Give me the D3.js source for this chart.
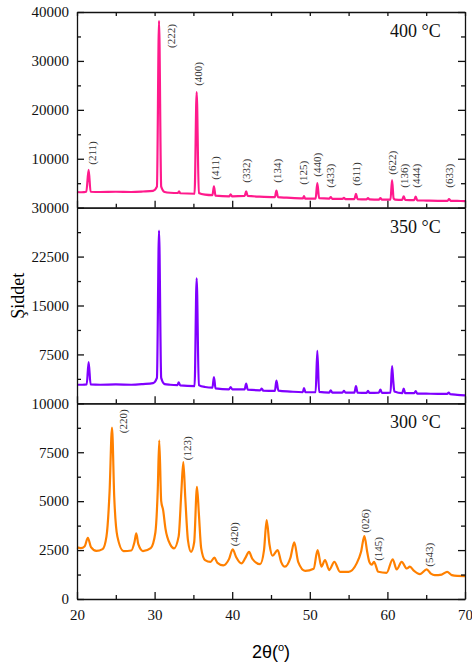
<!DOCTYPE html>
<html>
<head>
<meta charset="utf-8">
<script src="https://cdn.jsdelivr.net/npm/d3@7"></script>
<style>
  body { margin: 0; background: #fff; }
  .axis path, .axis line { stroke: #111; stroke-width: 1.3; }
  .axis text { font-family: "Liberation Serif", serif; font-size: 15px; fill: #111; }
  .peak-label { font-family: "Liberation Serif", serif; font-size: 11px; fill: #333; }
  .temp-label { font-family: "Liberation Serif", serif; font-size: 18px; fill: #111; }
</style>
</head>
<body>
<div id="chart"></div>
<script>
// 2theta (deg) / intensity pairs
const xrd400 = [
  [20, 3200], [20.6, 3150], [21.2, 3250], [21.5, 7750], [21.75, 3250], [23, 3200], [25, 3250], [27, 3200],
  [28.5, 3300], [29.8, 3450], [30.3, 4300], [30.57, 38200], [30.85, 4300], [31.3, 3200], [32, 3050],
  [33.0, 3000], [33.15, 3350], [33.3, 2950], [35.15, 2850], [35.42, 23600], [35.7, 3000], [36.5, 2650],
  [37.45, 2550], [37.65, 4350], [37.85, 2450], [39.6, 2300], [39.8, 2700], [40.0, 2300], [41.6, 2400],
  [41.8, 3330], [42.0, 2400], [43.5, 2250], [45.5, 2150], [45.7, 3470], [45.9, 2150], [47, 2050],
  [49.1, 1900], [49.25, 2350], [49.4, 1850], [50.75, 1850], [50.97, 5040], [51.2, 1950], [52.5, 1850],
  [52.7, 2150], [52.9, 1800], [54.2, 1800], [54.4, 2000], [54.6, 1750], [55.75, 1750], [55.95, 2800],
  [56.15, 1750], [57.3, 1700], [57.5, 1950], [57.7, 1700], [58.9, 1650], [59.1, 1950], [59.3, 1650],
  [60.4, 1650], [60.6, 5650], [60.8, 1900], [61.0, 1650], [61.9, 1600], [62.1, 2300], [62.3, 1600],
  [63.45, 1550], [63.65, 2240], [63.85, 1500], [65, 1450], [66.5, 1400], [67.75, 1400], [67.94, 1750],
  [68.15, 1400], [69, 1380], [70, 1350]
];

const xrd350 = [
  [20, 2850], [20.7, 2850], [21.25, 2900], [21.5, 6320], [21.75, 2900], [23, 2850], [25, 2900], [27, 2850],
  [28.5, 2950], [29.8, 3100], [30.3, 3900], [30.57, 26480], [30.85, 3900], [31.3, 2950], [32, 2850],
  [32.95, 2800], [33.1, 3200], [33.3, 2750], [35.15, 2650], [35.42, 19180], [35.7, 2800], [36.5, 2500],
  [37.45, 2400], [37.65, 4030], [37.85, 2300], [39.6, 2150], [39.8, 2500], [40.0, 2150], [41.6, 2150],
  [41.8, 3010], [42.0, 2100], [43.6, 2000], [43.8, 2250], [44.0, 1950], [45.5, 1900], [45.7, 3470],
  [45.95, 1950], [47.5, 1800], [49.1, 1700], [49.25, 2340], [49.45, 1700], [50.75, 1700], [50.97, 8060],
  [51.2, 1750], [52.5, 1650], [52.7, 2000], [52.9, 1650], [54.2, 1650], [54.4, 1900], [54.6, 1650],
  [55.75, 1650], [55.95, 2650], [56.15, 1650], [57.3, 1600], [57.5, 1900], [57.7, 1600], [58.9, 1650],
  [59.1, 2100], [59.3, 1600], [60.4, 1650], [60.6, 5710], [60.75, 3500], [60.9, 1800], [61.9, 1550],
  [62.1, 2250], [62.3, 1550], [63.45, 1550], [63.65, 1880], [63.85, 1500], [65, 1480], [66.5, 1450],
  [67.7, 1450], [67.9, 1640], [68.1, 1400], [69, 1300], [70, 1220]
];

const xrd300 = [
  [20, 2640], [20.5, 2600], [21.0, 2700], [21.4, 3130], [21.8, 2650], [22.5, 2460], [23.3, 2550],
  [23.8, 3200], [24.2, 5500], [24.51, 8760], [24.8, 5200], [25.2, 3200], [26, 2450], [27.0, 2480],
  [27.4, 2900], [27.64, 3350], [27.9, 2800], [28.5, 2450], [29.5, 2600], [30.1, 3400], [30.4, 5500],
  [30.6, 8110], [30.85, 5000], [31.1, 4540], [31.4, 3600], [32.0, 2800], [32.5, 2590], [33.1, 3200],
  [33.45, 5500], [33.7, 7000], [33.95, 5200], [34.3, 3000], [34.7, 2410], [35.1, 2900], [35.46, 5730],
  [35.7, 4390], [36.0, 2600], [36.5, 1990], [37.2, 1900], [37.7, 2110], [38.1, 1850], [38.85, 1720],
  [39.6, 2050], [40.06, 2540], [40.5, 2150], [41.2, 1820], [41.7, 2100], [42.17, 2410], [42.6, 2050],
  [43.6, 1785], [44.1, 2500], [44.44, 4030], [44.8, 2800], [45.2, 2210], [45.86, 2500], [46.3, 1900],
  [46.8, 1650], [47.5, 2100], [48.0, 2890], [48.5, 1900], [49.4, 1440], [50.5, 1550], [51.0, 2500],
  [51.5, 1650], [51.96, 1990], [52.5, 1480], [53.16, 1900], [53.9, 1390], [55, 1390], [56.04, 1820],
  [56.6, 2400], [57.03, 3210], [57.4, 2400], [57.67, 1900], [58.0, 1750], [58.27, 1900], [58.83, 1390],
  [59.9, 1340], [60.68, 2030], [61.2, 1510], [61.84, 1900], [62.5, 1560], [62.9, 1650], [63.4, 1450],
  [64.2, 1275], [65.06, 1510], [65.6, 1300], [66.1, 1220], [67.0, 1250], [67.7, 1390], [68.3, 1220],
  [69, 1180], [70, 1170]
];

// Miller index labels: [text, 2theta, intensity at label start]
const peaks400 = [
  ['(211)', 21.93, 8780], ['(222)', 32.11, 32650], ['(400)', 35.59, 24900], ['(411)', 37.78, 5710],
  ['(332)', 41.78, 5100], ['(134)', 45.73, 5100], ['(125)', 49.08, 4690], ['(440)', 50.97, 6330],
  ['(433)', 52.6, 4080], ['(611)', 55.95, 4490], ['(622)', 60.55, 6730], ['(136)', 62.18, 4080],
  ['(444)', 63.65, 4080], ['(633)', 67.94, 4080]
];
const peaks350 = [];
const peaks300 = [
  ['(220)', 25.97, 8470], ['(123)', 34.14, 7090], ['(420)', 40.27, 2700],
  ['(026)', 57.11, 3380], ['(145)', 58.75, 1950], ['(543)', 65.4, 1650]
];

const temps = ['400 °C', '350 °C', '300 °C'];
const colors = ['#ff1a8c', '#8000ff', '#ff8000'];
const yMaxes = [40000, 30000, 10000];
const yTicks = [[10000, 20000, 30000, 40000], [7500, 15000, 22500, 30000], [0, 2500, 5000, 7500, 10000]];
const xTicks = [20, 30, 40, 50, 60, 70];
const xMinor = [25, 35, 45, 55, 65];

const panels = [
  {data: xrd400, peaks: peaks400},
  {data: xrd350, peaks: peaks350},
  {data: xrd300, peaks: peaks300}
].map((p, i) => ({...p, temp: temps[i], color: colors[i], yMax: yMaxes[i], ticks: yTicks[i]}));

const width = 472, height = 663;
const margin = {top: 12, left: 77, right: 7, bottom: 64};
const innerW = width - margin.left - margin.right;
const panelH = (height - margin.top - margin.bottom) / 3;

const svg = d3.select('#chart').append('svg')
    .attr('width', width)
    .attr('height', height);

const x = d3.scaleLinear().domain([20, 70]).range([0, innerW]);

panels.forEach((p, i) => {
  const g = svg.append('g')
      .attr('transform', `translate(${margin.left},${margin.top + i * panelH})`);

  const y = d3.scaleLinear().domain([0, p.yMax]).range([panelH, 0]);
  const step = p.ticks[1] - p.ticks[0];
  const minor = d3.range(step / 2, p.yMax, step);

  // pattern line
  const line = d3.line()
      .x(d => x(d[0]))
      .y(d => y(d[1]))
      .curve(d3.curveMonotoneX);

  g.append('path')
      .datum(p.data)
      .attr('fill', 'none')
      .attr('stroke', p.color)
      .attr('stroke-width', 2.2)
      .attr('stroke-linejoin', 'round')
      .attr('d', line);

  // peak labels
  g.selectAll('.peak-label')
      .data(p.peaks)
      .join('text')
      .attr('class', 'peak-label')
      .attr('transform', d => `translate(${x(d[1])},${y(d[2])}) rotate(-90)`)
      .attr('dy', '0.35em')
      .text(d => d[0]);

  g.append('text')
      .attr('class', 'temp-label')
      .attr('x', innerW - 75)
      .attr('y', 25)
      .text(p.temp);

  // left axis (ticks inward)
  g.append('g').attr('class', 'axis')
      .call(d3.axisLeft(y).tickValues(p.ticks).tickSizeInner(-7).tickSizeOuter(0).tickPadding(15)
        .tickFormat(d3.format('d')))
      .call(a => a.selectAll('text').attr('x', -8));
  g.append('g').attr('class', 'axis')
      .call(d3.axisLeft(y).tickValues(minor).tickSize(-4).tickFormat(''))
      .call(a => a.select('.domain').remove());

  // right axis
  g.append('g').attr('class', 'axis')
      .attr('transform', `translate(${innerW},0)`)
      .call(d3.axisRight(y).tickValues(p.ticks).tickSizeInner(-7).tickSizeOuter(0).tickFormat(''));
  g.append('g').attr('class', 'axis')
      .attr('transform', `translate(${innerW},0)`)
      .call(d3.axisRight(y).tickValues(minor).tickSize(-4).tickFormat(''))
      .call(a => a.select('.domain').remove());

  // bottom axis
  const bottom = g.append('g').attr('class', 'axis')
      .attr('transform', `translate(0,${panelH})`)
      .call(d3.axisBottom(x).tickValues(xTicks).tickSizeInner(-7).tickSizeOuter(0).tickPadding(10));
  g.append('g').attr('class', 'axis')
      .attr('transform', `translate(0,${panelH})`)
      .call(d3.axisBottom(x).tickValues(xMinor).tickSize(-4).tickFormat(''))
      .call(a => a.select('.domain').remove());
  if (i < panels.length - 1) bottom.selectAll('text').remove();
  else bottom.select('.domain').attr('stroke-width', 2);

  // top axis
  const top = g.append('g').attr('class', 'axis')
      .call(d3.axisTop(x).tickValues(xTicks).tickSizeInner(i === 0 ? -4 : 0).tickSizeOuter(0).tickFormat(''));
  if (i === 0) {
    g.append('g').attr('class', 'axis')
        .call(d3.axisTop(x).tickValues(xMinor).tickSize(-4).tickFormat(''))
        .call(a => a.select('.domain').remove());
  }
});

// axis titles
svg.append('text')
    .attr('transform', `translate(24,${margin.top + 1.45 * panelH}) rotate(-90)`)
    .attr('text-anchor', 'middle')
    .style('font-family', '"Liberation Serif", serif')
    .style('font-size', '18px')
    .text('Şiddet');

const xt = svg.append('text')
    .attr('x', margin.left + innerW / 2)
    .attr('y', 658)
    .attr('text-anchor', 'middle')
    .style('font-family', '"Liberation Sans", sans-serif')
    .style('font-size', '18px');
xt.append('tspan').text('2θ(');
xt.append('tspan').attr('dy', -7).style('font-size', '11px').text('o');
xt.append('tspan').attr('dy', 7).text(')');
</script>
</body>
</html>
